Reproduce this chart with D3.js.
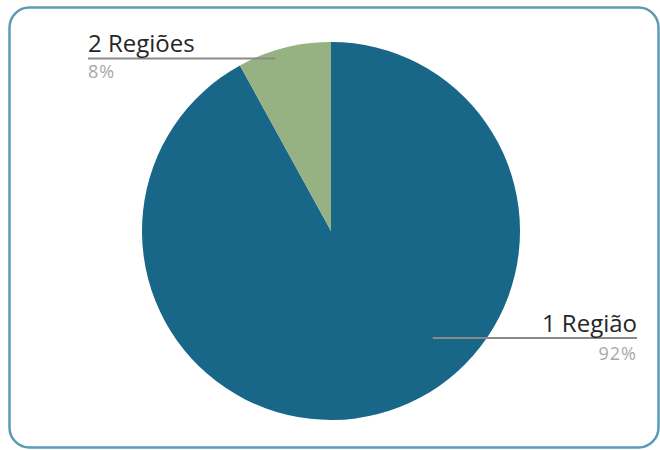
<!DOCTYPE html>
<html>
<head>
<meta charset="utf-8">
<script src="https://cdn.jsdelivr.net/npm/d3@7"></script>
<style>
  html, body { margin: 0; padding: 0; background: #fff; }
  svg { display: block; }
</style>
</head>
<body>
<svg id="chart" width="660" height="450"></svg>
<script>
// ---- data ----
const categories = ["1 Região", "2 Regiões"];
const values = [92, 8];
const percentLabels = ["92%", "8%"];
const colors = ["#186788", "#97b282"];

// ---- layout ----
const W = 660, H = 450;
const cx = 331, cy = 231, R = 189;
const svg = d3.select("#chart");

// frame
svg.append("rect")
  .attr("x", 9.5).attr("y", 7.5)
  .attr("width", 649).attr("height", 440)
  .attr("rx", 20).attr("ry", 20)
  .attr("fill", "#fff")
  .attr("stroke", "#5b9bb5")
  .attr("stroke-width", 2.5);

const data = categories.map((c, i) => ({ name: c, value: values[i], pct: percentLabels[i], color: colors[i] }));

const pie = d3.pie().value(d => d.value).sort(null);
const arc = d3.arc().innerRadius(0).outerRadius(R);
const arcs = pie(data);

const g = svg.append("g").attr("transform", `translate(${cx},${cy})`);
g.selectAll("path.slice")
  .data(arcs)
  .join("path")
  .attr("class", "slice")
  .attr("d", arc)
  .attr("fill", d => d.data.color);

// labels: side and row placement per slice (layout, not data)
const labelLayout = [
  { side: "right", lineY: 338, edgeX: 637, anchorR: 0.78, anchorAngleShift: -0.51, nameDy: -6, pctDy: 22 },
  { side: "left",  lineY: 58.5, edgeX: 88,  anchorR: 0.96, anchorAngleShift: -0.06, nameDy: -7, pctDy: 19.5 }
];

arcs.forEach((a, i) => {
  const L = labelLayout[i];
  const mid = (a.startAngle + a.endAngle) / 2 + L.anchorAngleShift;
  const ax = cx + Math.sin(mid) * R * L.anchorR;
  svg.append("line")
    .attr("x1", ax).attr("y1", L.lineY)
    .attr("x2", L.edgeX).attr("y2", L.lineY)
    .attr("stroke", "#8a8a8a")
    .attr("stroke-width", 2);
  const anchor = L.side === "right" ? "end" : "start";
  svg.append("text")
    .attr("x", L.edgeX).attr("y", L.lineY + L.nameDy)
    .attr("text-anchor", anchor)
    .attr("font-family", "'Open Sans', sans-serif")
    .attr("font-size", 24)
    .attr("fill", "#262626")
    .text(a.data.name);
  svg.append("text")
    .attr("x", L.edgeX).attr("y", L.lineY + L.pctDy)
    .attr("text-anchor", anchor)
    .attr("font-family", "'Open Sans', sans-serif")
    .attr("font-size", 18)
    .attr("letter-spacing", 1)
    .attr("fill", "#a8a8a8")
    .text(a.data.pct);
});
</script>
</body>
</html>
